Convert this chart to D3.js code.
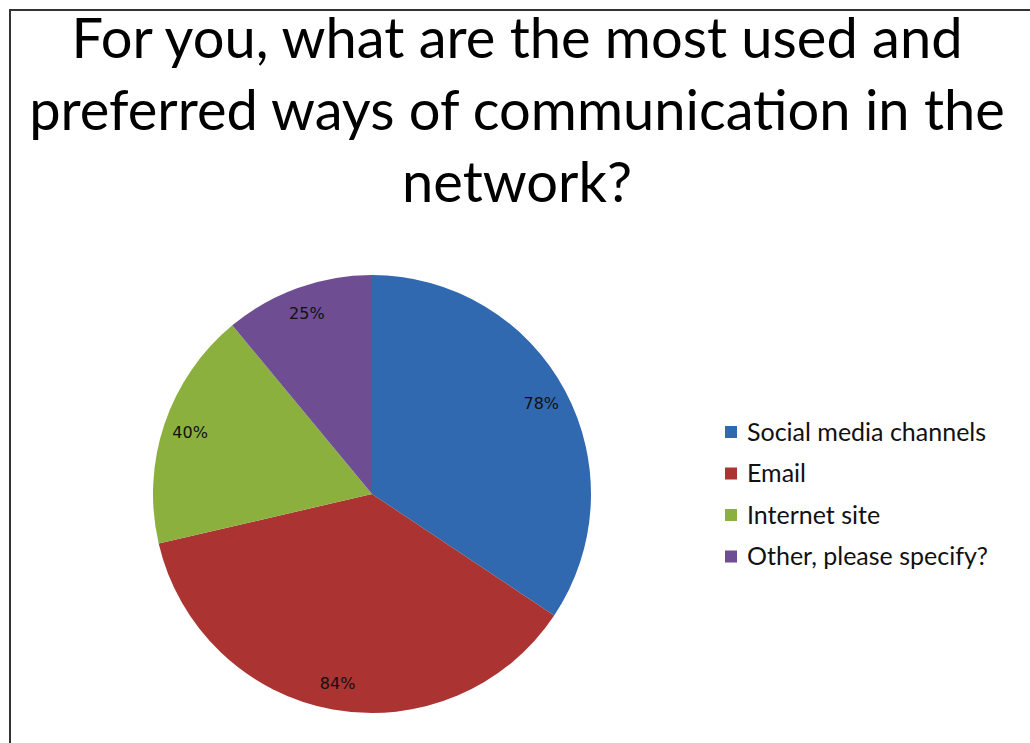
<!DOCTYPE html>
<html>
<head>
<meta charset="utf-8">
<script src="https://cdn.jsdelivr.net/npm/d3@7"></script>
<style>
  html, body { margin: 0; padding: 0; background: #fff; }
  svg { display: block; }
</style>
</head>
<body>
<svg id="chart" width="1030" height="743"></svg>
<script>
// Survey answers: most used and preferred ways of communication
const categories = ["Social media channels", "Email", "Internet site", "Other, please specify?"];
const values = [78, 84, 40, 25];
const colors = ["#3169b0", "#ab3331", "#8bb03e", "#6e4d93"];
const titleLines = ["For you, what are the most used and", "preferred ways of communication in the", "network?"];

const svg = d3.select("#chart");
const W = 1030, H = 743;

// Frame around the chart area
svg.append("path")
  .attr("d", `M10,${H} L10,10 L${W},10`)
  .attr("fill", "none")
  .attr("stroke", "#333")
  .attr("stroke-width", 2);

// Title
const titleFont = "Lato, 'Open Sans', sans-serif";
svg.append("g").selectAll("text")
  .data(titleLines)
  .join("text")
  .attr("x", 517)
  .attr("y", (d, i) => 58 + i * 72)
  .attr("text-anchor", "middle")
  .attr("font-family", titleFont)
  .attr("font-size", 56)
  .attr("fill", "#000")
  .text(d => d);

// Pie
const cx = 372, cy = 494, R = 219;
const data = categories.map((c, i) => ({ name: c, value: values[i], color: colors[i] }));
const pie = d3.pie().value(d => d.value).sort(null);
const arcs = pie(data);
const arc = d3.arc().innerRadius(0).outerRadius(R);
const labelArc = d3.arc().innerRadius(192).outerRadius(192);

const g = svg.append("g").attr("transform", `translate(${cx},${cy})`);
g.selectAll("path")
  .data(arcs)
  .join("path")
  .attr("d", arc)
  .attr("fill", d => d.data.color);

g.selectAll("text.val")
  .data(arcs)
  .join("text")
  .attr("class", "val")
  .attr("transform", d => `translate(${labelArc.centroid(d)})`)
  .attr("text-anchor", "middle")
  .attr("dy", "0.35em")
  .attr("font-family", "'DejaVu Sans', Verdana, sans-serif")
  .attr("font-size", 16)
  .attr("fill", "#111")
  .text(d => d.data.value + "%");

// Legend
const legend = svg.append("g").attr("transform", "translate(725,432)");
const rows = legend.selectAll("g")
  .data(data)
  .join("g")
  .attr("transform", (d, i) => `translate(0,${i * 41.5})`);
rows.append("rect")
  .attr("x", 0).attr("y", -6)
  .attr("width", 12).attr("height", 12)
  .attr("fill", d => d.color);
rows.append("text")
  .attr("x", 22)
  .attr("dy", "0.35em")
  .attr("font-family", titleFont)
  .attr("font-size", 25)
  .attr("fill", "#111")
  .text(d => d.name);
</script>
</body>
</html>
